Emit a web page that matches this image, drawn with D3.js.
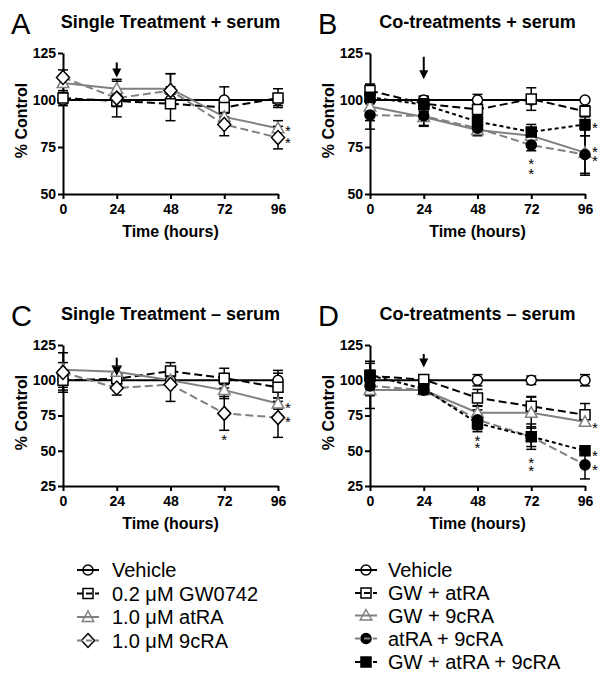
<!DOCTYPE html>
<html><head><meta charset="utf-8">
<script src="https://cdn.jsdelivr.net/npm/d3@7"></script>
<style>
body{margin:0;background:#fff}
svg{display:block}
text{font-family:"Liberation Sans", Arial, Helvetica, sans-serif}
</style>
</head><body>
<svg id="c" width="609" height="677"></svg>
<script>
// ---------------- DATA ----------------
const times = [0, 24, 48, 72, 96];
const xTicks = [0, 24, 48, 72, 96];
const yTicksSerum = [50, 75, 100, 125];
const yTicksNoSerum = [25, 50, 75, 100, 125];

const singleNames = ["Vehicle", "0.2 \u03BCM GW0742", "1.0 \u03BCM atRA", "1.0 \u03BCM 9cRA"];
const coNames = ["Vehicle", "GW + atRA", "GW + 9cRA", "atRA + 9cRA", "GW + atRA + 9cRA"];

const panelTitles = ["Single Treatment + serum", "Co-treatments + serum", "Single Treatment \u2013 serum", "Co-treatments \u2013 serum"];
const panelLetters = ["A", "B", "C", "D"];

// Panel A: single treatments + serum
const aVehicle = [100, 100, 100, 100, 100];
const aVehicleErr = [3, 3, 3, 7, 3];
const aGW = [101, 99.5, 98, 96, 101];
const aGWErr = [3, 3, 9, 5, 5];
const aAtRA = [109, 106, 106, 91, 85];
const aAtRAErr = [4, 4, 8, 5, 4];
const a9cRA = [112, 101, 105, 87, 80];
const a9cRAErr = [4, 10, 9, 6, 6];
const aStars = [[96, 85.5], [96, 79.5]];
const aArrow = [24, 120, 112];

// Panel B: co-treatments + serum
const bVehicle = [100, 100, 100, 100, 100];
const bVehicleErr = [2, 2, 3, 2, 1];
const bGWatRA = [105, 98, 95, 100.5, 94];
const bGWatRAErr = [3, 4, 3, 6, 3];
const bGW9cRA = [96.5, 91, 84, 81, 72];
const bGW9cRAErr = [12, 5, 3, 4, 12];
const bAtRA9cRA = [92, 91.5, 85, 76, 71];
const bAtRA9cRAErr = [3, 5, 2, 3, 10];
const bTriple = [101.5, 97.5, 88.5, 83, 87];
const bTripleErr = [3, 4, 3, 4, 6];
const bStars = [[96, 87], [96, 74.5], [96, 69.5], [72, 68], [72, 63]];
const bArrow = [24, 123, 111];

// Panel C: single treatments - serum
const cVehicle = [100, 100, 100, 100, 100];
const cVehicleErr = [7, 3, 3, 3, 7];
const cGW = [100, 101, 106.5, 101.5, 95];
const cGWErr = [5, 3, 6, 7, 10];
const cAtRA = [107.5, 106, 100, 93, 83.5];
const cAtRAErr = [5, 4, 3, 6, 4];
const c9cRA = [105.5, 94.5, 97, 76.5, 73.5];
const c9cRAErr = [14, 5, 12, 12, 14];
const cStars = [[96, 83.5], [96, 73.5], [72, 60.5]];
const cArrow = [24, 116, 103];

// Panel D: co-treatments - serum
const dVehicle = [100, 100, 100, 100, 100];
const dVehicleErr = [3, 2, 4, 3, 4];
const dGWatRA = [103, 100.5, 87.5, 81.5, 75.5];
const dGWatRAErr = [4, 3, 6, 7, 8];
const dGW9cRA = [93, 93, 77, 77, 70.5];
const dGW9cRAErr = [4, 3, 5, 11, 3];
const dAtRA9cRA = [96, 93, 72, 60, 40];
const dAtRA9cRAErr = [16, 3, 7, 9, 10];
const dTriple = [103.5, 94, 69.5, 60, 50];
const dTripleErr = [10, 4, 6, 7, 3];
const dStars = [[48, 60], [48, 54.5], [72, 44.5], [72, 38.5], [96, 69], [96, 49], [96, 39]];
const dArrow = [24, 118.6, 109];

// ---------------- STYLES ----------------
const GRAY = "#808080";
const styles = {
  vehicle: {stroke: "#000", dash: null, marker: "circle", fill: "#fff", mstroke: "#000"},
  gw:      {stroke: "#000", dash: "8,4", marker: "square", fill: "#fff", mstroke: "#000"},
  atra:    {stroke: GRAY, dash: null, marker: "triangle", fill: "#fff", mstroke: GRAY},
  c9:      {stroke: GRAY, dash: "8,4", marker: "diamond", fill: "#fff", mstroke: "#000"},
  gwatra:  {stroke: "#000", dash: "8,4", marker: "square", fill: "#fff", mstroke: "#000"},
  gw9c:    {stroke: GRAY, dash: null, marker: "triangle", fill: "#fff", mstroke: GRAY},
  atra9c:  {stroke: GRAY, dash: "8,4", marker: "circle", fill: "#000", mstroke: "#000"},
  triple:  {stroke: "#000", dash: "4,3", marker: "square", fill: "#000", mstroke: "#000"}
};

const panels = [
  {title: panelTitles[0], letter: panelLetters[0], ox: 0, oy: 0, yTicks: yTicksSerum, yDomain: [50, 125],
   series: [["vehicle", aVehicle, aVehicleErr], ["gw", aGW, aGWErr], ["atra", aAtRA, aAtRAErr], ["c9", a9cRA, a9cRAErr]],
   stars: aStars, arrow: aArrow},
  {title: panelTitles[1], letter: panelLetters[1], ox: 307, oy: 0, yTicks: yTicksSerum, yDomain: [50, 125],
   series: [["vehicle", bVehicle, bVehicleErr], ["gwatra", bGWatRA, bGWatRAErr], ["gw9c", bGW9cRA, bGW9cRAErr], ["atra9c", bAtRA9cRA, bAtRA9cRAErr], ["triple", bTriple, bTripleErr]],
   stars: bStars, arrow: bArrow},
  {title: panelTitles[2], letter: panelLetters[2], ox: 0, oy: 292, yTicks: yTicksNoSerum, yDomain: [25, 125],
   series: [["vehicle", cVehicle, cVehicleErr], ["gw", cGW, cGWErr], ["atra", cAtRA, cAtRAErr], ["c9", c9cRA, c9cRAErr]],
   stars: cStars, arrow: cArrow},
  {title: panelTitles[3], letter: panelLetters[3], ox: 307, oy: 292, yTicks: yTicksNoSerum, yDomain: [25, 125],
   series: [["vehicle", dVehicle, dVehicleErr], ["gwatra", dGWatRA, dGWatRAErr], ["gw9c", dGW9cRA, dGW9cRAErr], ["atra9c", dAtRA9cRA, dAtRA9cRAErr], ["triple", dTriple, dTripleErr]],
   stars: dStars, arrow: dArrow}
];

function markerPath(type) {
  if (type === "circle") return d3.symbol(d3.symbolCircle, 80)();
  if (type === "square") return "M-5,-5H5V5H-5Z";
  if (type === "triangle") return "M0,-6L5.8,4.5H-5.8Z";
  if (type === "diamond") return "M0,-7L6.5,0L0,7L-6.5,0Z";
}

const svg = d3.select("#c");

panels.forEach(p => {
  const g = svg.append("g").attr("transform", `translate(${p.ox},${p.oy})`);
  const x = d3.scaleLinear().domain([0, 96]).range([63, 278]);
  const y = d3.scaleLinear().domain(p.yDomain).range([194, 53]);

  // letter & title
  g.append("text").attr("x", 11).attr("y", 34).attr("font-size", 29).text(p.letter);
  g.append("text").attr("x", (x(0) + x(96)) / 2).attr("y", 28).attr("text-anchor", "middle")
    .attr("font-size", 18).attr("font-weight", "bold").text(p.title);

  // axes
  const xa = g.append("g").attr("transform", `translate(0,${y(p.yDomain[0])})`)
    .call(d3.axisBottom(x).tickValues(xTicks).tickSize(5).tickPadding(5).tickSizeOuter(0));
  const ya = g.append("g").attr("transform", `translate(${x(0)},0)`)
    .call(d3.axisLeft(y).tickValues(p.yTicks).tickSize(5).tickPadding(2).tickSizeOuter(0));
  [xa, ya].forEach(a => {
    a.select(".domain").attr("stroke", "#000").attr("stroke-width", 2);
    a.selectAll(".tick line").attr("stroke", "#000").attr("stroke-width", 2);
    a.selectAll(".tick text").attr("font-size", 14).attr("font-weight", "bold").attr("fill", "#000")
      .attr("font-family", '"Liberation Sans", Arial, sans-serif');
  });

  // axis titles
  g.append("text").attr("transform", `translate(27,${(y.range()[0] + y.range()[1]) / 2 - 3}) rotate(-90)`)
    .attr("text-anchor", "middle").attr("font-size", 16).attr("font-weight", "bold").text("% Control");
  g.append("text").attr("x", (x(0) + x(96)) / 2).attr("y", 237).attr("text-anchor", "middle")
    .attr("font-size", 16).attr("font-weight", "bold").text("Time (hours)");

  const line = d3.line().x((d, i) => x(times[i])).y(d => y(d));

  // lines
  p.series.forEach(([key, vals]) => {
    const s = styles[key];
    g.append("path").attr("d", line(vals)).attr("fill", "none").attr("stroke", s.stroke)
      .attr("stroke-width", 2).attr("stroke-dasharray", s.dash);
  });
  // error bars
  p.series.forEach(([key, vals, errs]) => {
    vals.forEach((v, i) => {
      const cx = x(times[i]);
      const eb = g.append("g").attr("stroke", "#000").attr("stroke-width", 1.5);
      eb.append("line").attr("x1", cx).attr("x2", cx).attr("y1", y(v - errs[i])).attr("y2", y(v + errs[i]));
      eb.append("line").attr("x1", cx - 5).attr("x2", cx + 5).attr("y1", y(v + errs[i])).attr("y2", y(v + errs[i]));
      eb.append("line").attr("x1", cx - 5).attr("x2", cx + 5).attr("y1", y(v - errs[i])).attr("y2", y(v - errs[i]));
    });
  });
  // markers
  p.series.forEach(([key, vals]) => {
    const s = styles[key];
    vals.forEach((v, i) => {
      g.append("path").attr("d", markerPath(s.marker))
        .attr("transform", `translate(${x(times[i])},${y(v)})`)
        .attr("fill", s.fill).attr("stroke", s.mstroke).attr("stroke-width", 1.5);
    });
  });

  // stars
  p.stars.forEach(([t, v]) => {
    g.append("text").attr("x", x(t) + (t === 96 ? 10 : 0)).attr("y", y(v) + 9)
      .attr("text-anchor", "middle").attr("font-size", 15).text("*");
  });

  // arrow at 24h
  const [at, aTop, aTip] = p.arrow;
  const ax = x(at);
  g.append("line").attr("x1", ax).attr("x2", ax).attr("y1", y(aTop)).attr("y2", y(aTip) - 6)
    .attr("stroke", "#000").attr("stroke-width", 2);
  g.append("path").attr("d", `M${ax - 4.5},${y(aTip) - 9}L${ax + 4.5},${y(aTip) - 9}L${ax},${y(aTip)}Z`).attr("fill", "#000");
});

// ---------------- LEGENDS ----------------
function legend(names, keys, sx, tx, ys) {
  const lg = svg.append("g");
  names.forEach((n, i) => {
    const s = styles[keys[i]];
    const yy = ys[i];
    lg.append("path").attr("d", markerPath(s.marker)).attr("transform", `translate(${sx},${yy})`)
      .attr("fill", s.fill).attr("stroke", s.mstroke).attr("stroke-width", 1.5);
    lg.append("line").attr("x1", sx - 11).attr("x2", sx + 11).attr("y1", yy).attr("y2", yy)
      .attr("stroke", s.stroke).attr("stroke-width", 2).attr("stroke-dasharray", s.dash ? "6,3" : null);
    lg.append("text").attr("x", tx).attr("y", yy + 7).attr("font-size", 20).text(n);
  });
}
legend(singleNames, ["vehicle", "gw", "atra", "c9"], 88, 112, [570, 593.5, 617, 640.5]);
legend(coNames, ["vehicle", "gwatra", "gw9c", "atra9c", "triple"], 366, 388, [570, 593, 615.5, 638.5, 662]);
</script>
</body></html>
